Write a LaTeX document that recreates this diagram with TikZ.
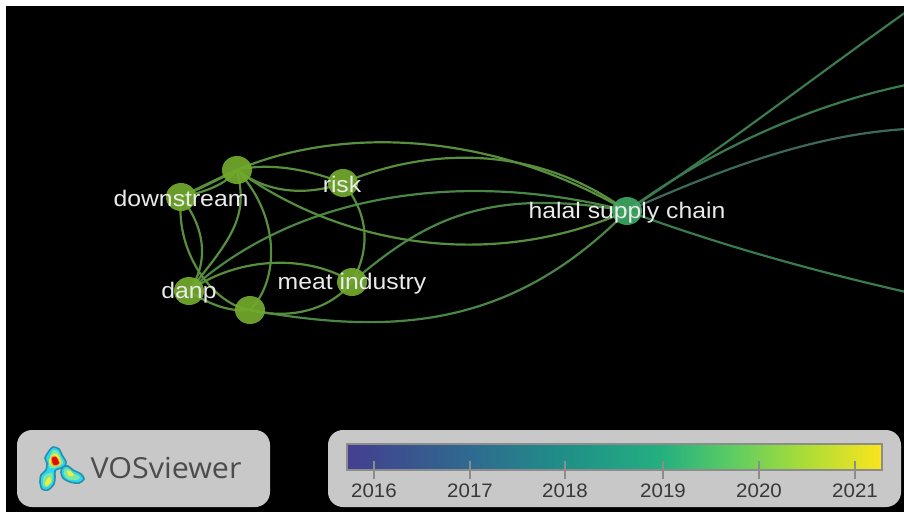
\documentclass[tikz,border=0pt]{standalone}
\usepackage{fontspec}
\setmainfont{Liberation Sans}
\newfontfamily\vosfont{Open Sans}
\usetikzlibrary{shapes.geometric}
\pgfdeclarelayer{edgelayer}
\pgfdeclarelayer{backlayer}
\pgfsetlayers{backlayer,edgelayer,main}
\definecolor{edgeL}{HTML}{588F3E}
\definecolor{edgeM}{HTML}{4A8645}
\definecolor{edgeR}{HTML}{3A7A4E}
\definecolor{edgeG}{HTML}{3D6A58}
\definecolor{kw}{HTML}{72AA2C}
\definecolor{kwh}{HTML}{3EA763}
\definecolor{panel}{HTML}{C8C8C8}
\definecolor{vA}{HTML}{443F90}
\definecolor{vB}{HTML}{2F6A90}
\definecolor{vC}{HTML}{1F9088}
\definecolor{vD}{HTML}{25B080}
\definecolor{vE}{HTML}{5DCC62}
\definecolor{vF}{HTML}{A8DC38}
\definecolor{vG}{HTML}{FBE41E}
\definecolor{logoEdge}{HTML}{2A8FA8}
\definecolor{logoCyan}{HTML}{2AD6F2}
\definecolor{logoGreen}{HTML}{7FE8A0}
\definecolor{logoYellow}{HTML}{F2EC3A}
\definecolor{logoOrange}{HTML}{F59A20}
\definecolor{logoRed}{HTML}{D81008}
\pgfdeclarehorizontalshading{viridisbar}{100bp}{
  color(0bp)=(vA); color(25bp)=(vA); color(36.5bp)=(vB); color(45.5bp)=(vC);
  color(54.5bp)=(vD); color(61bp)=(vE); color(67.5bp)=(vF); color(75bp)=(vG); color(100bp)=(vG)}
\tikzset{
  x=1pt,y=-1pt,
  kwnode/.style={ellipse,minimum width=30pt,minimum height=28pt,inner sep=0pt,fill=kw,fill opacity=.92},
  kwlabel/.style={text=white!92!black,font=\fontsize{22.5}{22.5}\selectfont,xscale=1.1,inner sep=0pt},
  link/.style={draw=edgeL,line width=2.2pt},
  linkH/.style={draw=edgeM,line width=2.2pt},
  linkR/.style={draw=edgeR,line width=2.2pt},
  linkG/.style={draw=edgeG,line width=2.2pt},
  panelbox/.style={fill=panel,rounded corners=15pt},
  tickmark/.style={draw=black!45,line width=1.4pt},
  yearlabel/.style={text=black!78,font=\fontsize{19.5}{19.5}\selectfont,xscale=1.05,inner sep=0pt},
  blob/.style={fill=logoCyan,draw=logoEdge,line width=1.6pt},
}
\begin{document}
\begin{tikzpicture}
\useasboundingbox (0,0) rectangle (904,512);
\begin{pgfonlayer}{backlayer}
\fill[white] (0,0) rectangle (904,512);
\fill[black] (6,6) rectangle (904,512);
\end{pgfonlayer}

% keyword nodes
\node[kwnode] (top) at (237,170) {};
\node[kwnode] (down) at (181,197) {};
\node[kwnode] (risk) at (343,183) {};
\node[kwnode] (danp) at (189,291) {};
\node[kwnode] (bot) at (250,310) {};
\node[kwnode] (meat) at (352,282) {};
\node[kwnode,fill=kwh] (halal) at (627,211) {};
\coordinate (e1) at (906,12);
\coordinate (e2) at (906,85);
\coordinate (e3) at (906,129);
\coordinate (e4) at (906,292);

\begin{pgfonlayer}{edgelayer}
\draw[link] (top.center) .. controls (330,130) and (480,125) .. (halal.center);
\draw[link] (risk.center) .. controls (420,150) and (530,140) .. (halal.center);
\draw[linkH] (danp.center) .. controls (300,190) and (470,170) .. (halal.center);
\draw[linkH] (meat.center) .. controls (420,225) and (480,185) .. (halal.center);
\draw[link] (top.center) .. controls (340,245) and (490,272) .. (halal.center);
\draw[linkH] (bot.center) .. controls (390,335) and (510,330) .. (halal.center);
\draw[link,line width=3pt] (top.center) -- (down.center);
\draw[link] (down.center) .. controls (205,192) and (225,185) .. (top.center);
\draw[link] (top.center) .. controls (270,162) and (310,170) .. (risk.center);
\draw[link] (top.center) .. controls (270,195) and (310,195) .. (risk.center);
\draw[link] (top.center) .. controls (248,215) and (235,235) .. (danp.center);
\draw[link] (top.center) .. controls (280,215) and (280,280) .. (bot.center);
\draw[link] (down.center) .. controls (207,230) and (208,265) .. (danp.center);
\draw[link] (down.center) .. controls (175,255) and (215,305) .. (bot.center);
\draw[link] (risk.center) .. controls (370,215) and (370,250) .. (meat.center);
\draw[link] (danp.center) .. controls (240,255) and (310,255) .. (meat.center);
\draw[link] (danp.center) .. controls (210,305) and (230,312) .. (bot.center);
\draw[link] (bot.center) .. controls (290,320) and (330,310) .. (meat.center);
\draw[linkR] (halal.center) .. controls (720,150) and (810,80) .. (e1);
\draw[linkR] (halal.center) .. controls (710,150) and (810,105) .. (e2);
\draw[linkG] (halal.center) .. controls (720,170) and (810,135) .. (e3);
\draw[linkR] (halal.center) .. controls (720,245) and (810,270) .. (e4);
\end{pgfonlayer}

% keyword labels
\node[kwlabel] (ldown) at (181,198) {downstream};
\node[kwlabel] (lrisk) at (342,184) {risk};
\node[kwlabel] (ldanp) at (189,293) {danp};
\node[kwlabel] (lmeat) at (352,284) {meat industry};
\node[kwlabel] (lhalal) at (627,213) {halal supply chain};

% logo panel
\fill[panelbox] (17,430) rectangle (270,507);
\fill[blob] plot[smooth cycle] coordinates
 {(53,447) (59,449) (62,455) (66,462) (64,467) (58,469) (55,471) (55,477) (54,484) (48,490) (42,489) (40,482) (41,475) (46,470) (47,463) (45,458) (49,451)};
\fill[blob] plot[smooth cycle] coordinates
 {(63,467) (68,466) (73,470) (81,474) (84,479) (79,483) (70,482) (63,478) (61,472)};
\fill[logoGreen] plot[smooth cycle] coordinates {(53,450) (58,452) (61,458) (63,463) (58,467) (50,468) (49,460)};
\fill[logoYellow] plot[smooth cycle] coordinates {(52,455) (57,454) (61,462) (58,466) (52,466) (49,461)};
\fill[logoOrange] plot[smooth cycle] coordinates {(51,457) (56,456) (60,463) (57,466) (52,465)};
\fill[logoRed] plot[smooth cycle] coordinates {(52,458) (56,457) (59,463) (56,465) (53,464)};
\fill[logoGreen] plot[smooth cycle] coordinates {(44,476) (52,473) (52,482) (47,487) (43,485)};
\fill[logoYellow] plot[smooth cycle] coordinates {(47,479) (50,477) (51,482) (47,486) (45,484)};
\fill[logoGreen] plot[smooth cycle] coordinates {(65,469) (69,469) (73,473) (80,477) (77,480) (68,479) (64,474)};
\fill[logoYellow] plot[smooth cycle] coordinates {(67,471) (70,471) (74,475) (69,476)};
\node[text=black!70,font=\vosfont\fontsize{29}{29}\selectfont,xscale=1.05,inner sep=0pt] (vos) at (166,468) {VOSviewer};

% colour bar panel
\fill[panelbox] (328,430) rectangle (901,507);
\node[rectangle,draw=black!45,line width=1.4pt,minimum width=535pt,minimum height=26pt,inner sep=0pt,shading=viridisbar] (bar) at (614.5,457) {};
\foreach \tx/\ty in {374/2016,470/2017,565/2018,663/2019,759/2020,855/2021}{
  \coordinate (ta\ty) at (\tx,461);
  \coordinate (tb\ty) at (\tx,479);
  \draw[tickmark] (ta\ty) -- (tb\ty);
  \node[yearlabel] (y\ty) at (\tx,491) {\ty};
}
\end{tikzpicture}
\end{document}
